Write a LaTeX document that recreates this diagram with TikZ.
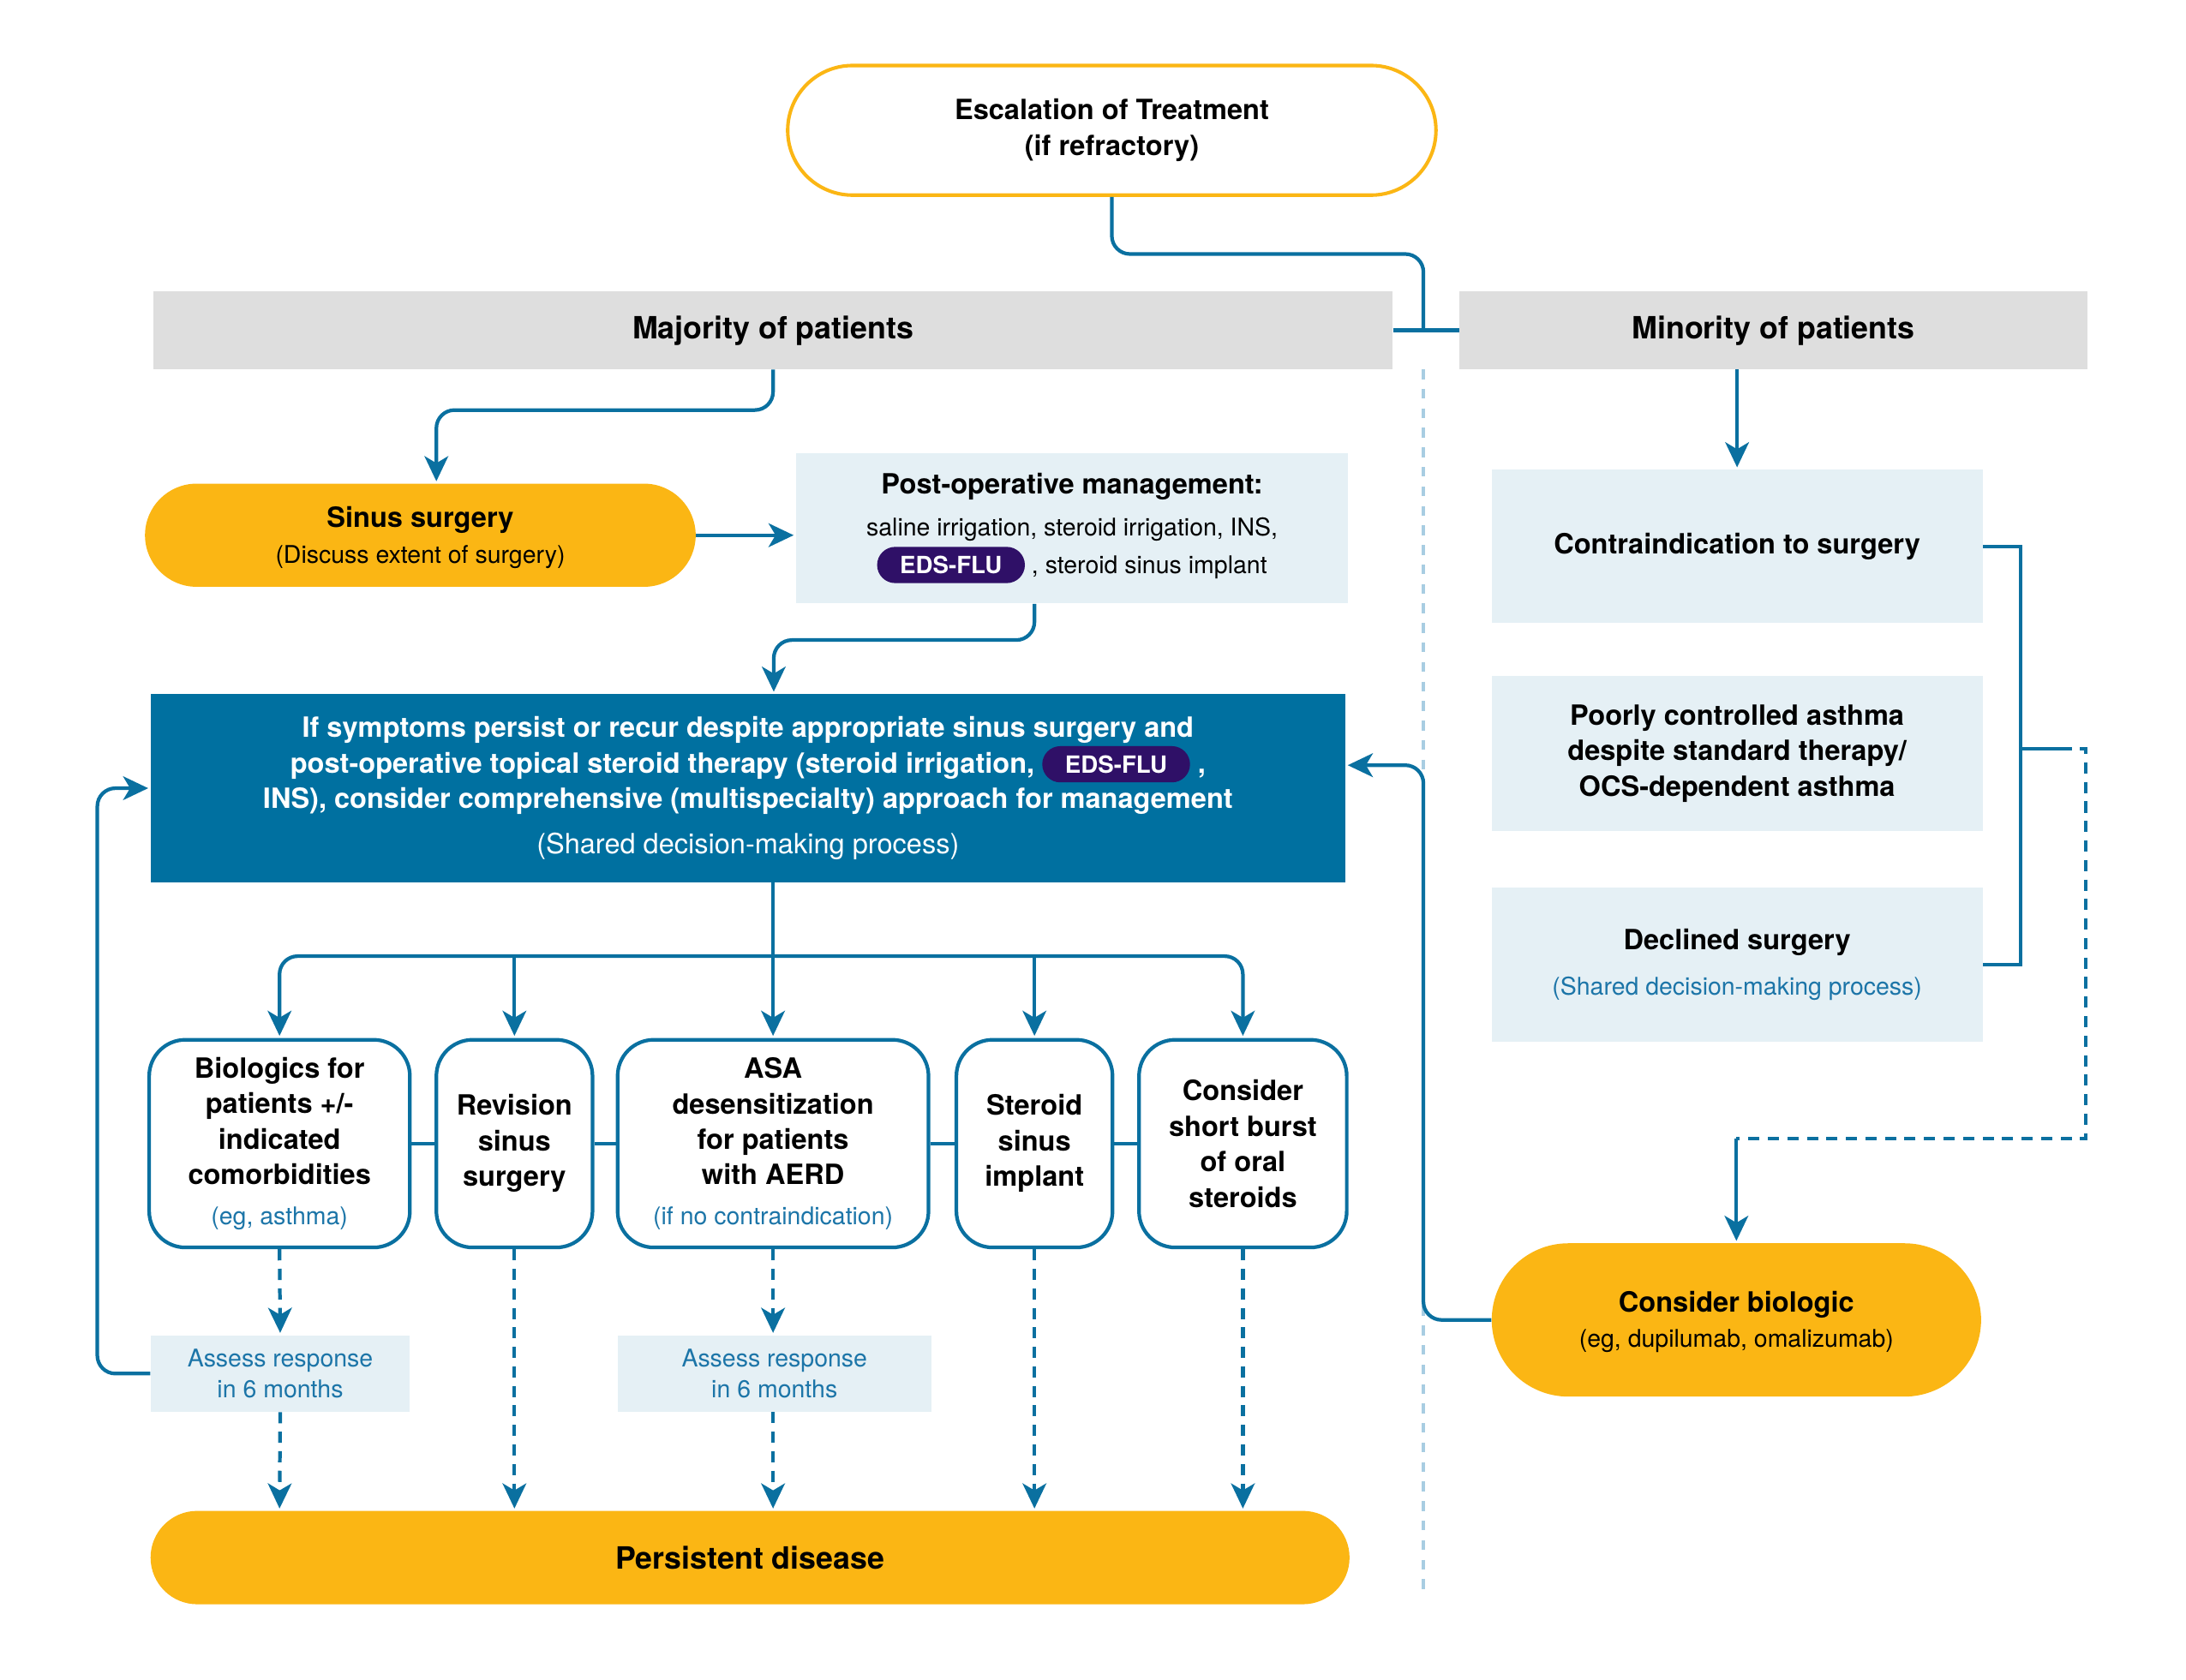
\documentclass[tikz,border=0pt]{standalone}
\usepackage{fontspec}
\setmainfont{TeX Gyre Heros}
\usepackage{tikz}
\usetikzlibrary{positioning, arrows.meta, shapes.misc, calc}
\usepackage{xcolor}

\definecolor{flowblue}{HTML}{0A70A0}
\definecolor{mainblue}{HTML}{0070A0}
\definecolor{sunyellow}{HTML}{FBB614}
\definecolor{paleblue}{HTML}{E5F0F5}
\definecolor{bargrey}{HTML}{DEDEDE}
\definecolor{badgepurple}{HTML}{2F1067}
\definecolor{dotblue}{HTML}{A8CDE2}
\definecolor{subblue}{HTML}{1C75A8}

\newcommand{\barfont}{\fontsize{22}{27}\selectfont\bfseries}
\newcommand{\cellfont}{\fontsize{20}{25.5}\selectfont\bfseries}
\newcommand{\notefont}{\fontsize{17.5}{22}\selectfont\mdseries}

\tikzset{badge/.style={rounded rectangle, fill=badgepurple, text=white,
                       font=\fontsize{17}{20}\selectfont\bfseries,
                       minimum height=26pt, minimum width=106pt, inner sep=0pt}}
\newcommand{\edsflu}{\tikz[baseline=(eds.base)]\node[badge] (eds) {EDS-FLU};}

\begin{document}
\begin{tikzpicture}[
    x=1pt, y=-1pt,
    every node/.style={inner sep=0pt, align=center},
    pill/.style={rounded rectangle, fill=sunyellow},
    panel/.style={rectangle, fill=paleblue},
    bar/.style={rectangle, fill=bargrey, font=\barfont},
    option/.style={rectangle, draw=flowblue, line width=2.6pt, fill=white,
                   rounded corners=26pt, minimum height=149pt, font=\cellfont},
    link/.style={draw=flowblue, line width=2.6pt},
    flow/.style={link, rounded corners=13pt, shorten >=1.5pt,
                 -{Stealth[length=18pt, width=17pt, inset=5pt]}},
    dashflow/.style={flow, dash pattern=on 8pt off 6pt},
    divider/.style={draw=dotblue, line width=2pt, dash pattern=on 7pt off 7pt}
]
\useasboundingbox (0,0) rectangle (1568,1205);

\node[rounded rectangle, draw=sunyellow, line width=2.5pt, fill=white,
      minimum width=465pt, minimum height=93pt, font=\cellfont] (escal) at (797.5,93.5)
      {Escalation of Treatment\\(if refractory)};
\node[bar, minimum width=889pt, minimum height=56pt] (major) at (554.5,237) {Majority of patients};
\node[bar, minimum width=450pt, minimum height=56pt] (minor) at (1272,237) {Minority of patients};

\node[pill, minimum width=395pt, minimum height=74pt, font=\cellfont] (sinus) at (301.5,384)
      {\rule{0pt}{18pt}Sinus surgery\\{\notefont (Discuss extent of surgery)}};
\node[panel, minimum width=396pt, minimum height=108pt, font=\notefont] (postop) at (769,379)
      {{\cellfont Post-operative management:}\\[8pt]
       saline irrigation, steroid irrigation, INS,\\[3pt]
       \edsflu\ , steroid sinus implant};

\node[rectangle, fill=mainblue, text=white, minimum width=857pt, minimum height=135pt,
      font=\cellfont] (main) at (536.5,565.5)
      {If symptoms persist or recur despite appropriate sinus surgery and\\
       post-operative topical steroid therapy (steroid irrigation, \edsflu\ ,\\
       INS), consider comprehensive (multispecialty) approach for management\\[7pt]
       {\mdseries (Shared decision-making process)}};

\node[option, minimum width=187pt] (biolog) at (200.5,820.5)
      {Biologics for\\ patients +/-\\ indicated\\ comorbidities\\[3pt]
       {\notefont\color{subblue}(eg, asthma)}};
\node[option, minimum width=112pt] (revis) at (369,820.5) {Revision\\ sinus\\ surgery};
\node[option, minimum width=223pt] (asa) at (554.5,820.5)
      {ASA\\ desensitization\\ for patients\\ with AERD\\[3pt]
       {\notefont\color{subblue}(if no contraindication)}};
\node[option, minimum width=112pt] (implant) at (742,820.5) {Steroid\\ sinus\\ implant};
\node[option, minimum width=149pt] (oral) at (891.5,820.5) {Consider\\ short burst\\ of oral\\ steroids};

\node[panel, minimum width=186pt, minimum height=55pt, font=\notefont, text=subblue] (assess1)
      at (201,985.5) {Assess response\\ in 6 months};
\node[panel, minimum width=225pt, minimum height=55pt, font=\notefont, text=subblue] (assess2)
      at (555.5,985.5) {Assess response\\ in 6 months};
\node[pill, minimum width=860pt, minimum height=67pt, font=\barfont] (persist) at (538,1117.5)
      {Persistent disease};

\node[panel, minimum width=352pt, minimum height=110pt, font=\cellfont] (contra) at (1246,392)
      {Contraindication to surgery};
\node[panel, minimum width=352pt, minimum height=111pt, font=\cellfont] (poor) at (1246,540.5)
      {Poorly controlled asthma\\ despite standard therapy/\\ OCS-dependent asthma};
\node[panel, minimum width=352pt, minimum height=111pt, font=\cellfont] (declined) at (1246,692)
      {Declined surgery\\[7pt] {\notefont\color{subblue}(Shared decision-making process)}};
\node[pill, minimum width=351pt, minimum height=110pt, font=\cellfont] (biologic) at (1245.5,947)
      {\rule{0pt}{18pt}Consider biologic\\ {\notefont (eg, dupilumab, omalizumab)}};

\coordinate (split) at (1021,237);
\coordinate (divtop) at (1021,265);
\coordinate (divbot) at (1021,1145);
\coordinate (hub) at (554.5,686);
\coordinate (brk) at (1449,537);
\coordinate (dashcorner) at (1496,817);
\coordinate (turn) at (biologic.north |- dashcorner);

\draw[divider] (divtop) -- (divbot);
\draw[link, rounded corners=13pt] (escal.south) -- ++(0,41) -| (split);
\draw[link] (major.east) -- (minor.west);

\draw[flow] (major.south) -- ++(0,29) -| ([xshift=11.5pt]sinus.north);
\draw[flow] (sinus.east) -- (sinus.east -| postop.west);
\draw[flow] ([xshift=-27pt]postop.south) -- ++(0,26) -| ([xshift=18.5pt]main.north);

\draw[flow] (asa.north |- main.south) -- (asa.north);
\draw[flow] (hub) -| (biolog.north);
\draw[flow] (hub) -| (oral.north);
\draw[flow] (hub -| revis.north) -- (revis.north);
\draw[flow] (hub -| implant.north) -- (implant.north);

\draw[link] (biolog.east) -- (revis.west);
\draw[link] (revis.east) -- (asa.west);
\draw[link] (asa.east) -- (implant.west);
\draw[link] (implant.east) -- (oral.west);

\draw[dashflow] (biolog.south) -- (assess1.north);
\draw[dashflow] (assess1.south) -- (biolog.south |- persist.north);
\draw[dashflow] (revis.south) -- (revis.south |- persist.north);
\draw[dashflow] (asa.south) -- (asa.south |- assess2.north);
\draw[dashflow] (asa.south |- assess2.south) -- (asa.south |- persist.north);
\draw[dashflow] (implant.south) -- (implant.south |- persist.north);
\draw[dashflow] (oral.south) -- (oral.south |- persist.north);

\draw[flow] (assess1.west) -- ++(-38,0) |- (main.west);
\draw[flow] (biologic.west) -- (biologic.west -| split) |- ([yshift=16.5pt]main.east);

\draw[flow] (contra.north |- minor.south) -- (contra.north);
\draw[link] (contra.east) -- ++(27,0) |- (declined.east);
\draw[link] (brk) -- ++(29,0);
\draw[link, dash pattern=on 8pt off 6pt] ([xshift=29pt]brk) -| (dashcorner) -- (turn);
\draw[flow] (turn) -- (biologic.north);
\end{tikzpicture}
\end{document}
